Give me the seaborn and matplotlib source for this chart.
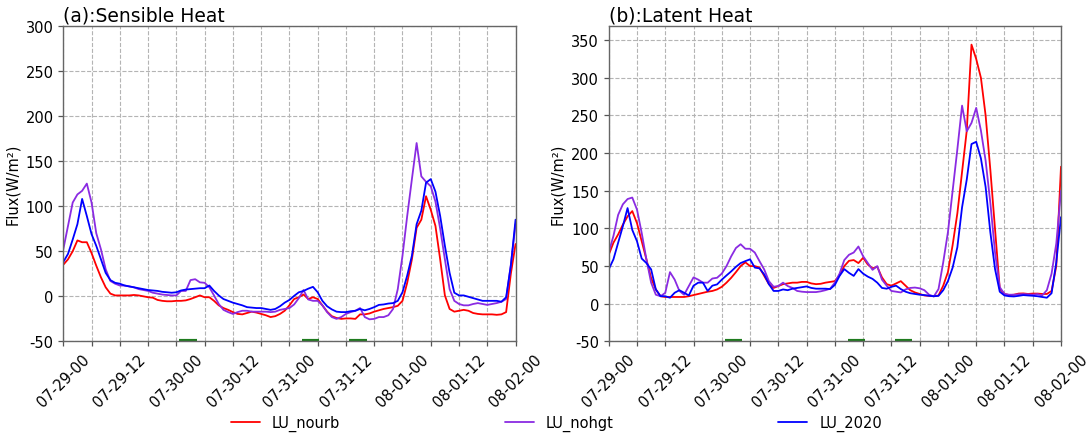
import matplotlib
matplotlib.use("Agg")
import matplotlib.pyplot as plt
import matplotlib.dates as mdates
import pandas as pd
import seaborn as sb

# series hourly 07-29 00 -> 08-02 00 (97 pts)
runs = ["LU_nourb", "LU_nohgt", "LU_2020"]
colores = ["#ff0000", "#8a2be2", "#0000ff"]

sh_nourb = [35, 41, 50, 62, 60, 60, 48, 34, 21, 10,
            3, 1, 1, 1, 1, 1.5, 1, 0, -1, -1.5,
            -4, -5, -5.5, -5.5, -5, -5, -4.5, -3, -1, 1,
            -1, -1, -5, -10, -13, -15, -17.5, -19.5, -20, -18.5,
            -17, -18, -19.5, -21, -23, -22, -19.5, -16, -10, -3,
            -1, 2, -3, -1, -3, -10, -17, -22, -24, -25,
            -24.5, -24.5, -25, -20, -20, -19, -17, -15.5, -14, -13,
            -12, -10.5, -5, 15, 41, 76, 85, 111, 96, 78,
            41, 1, -14, -17, -16, -15, -16, -18.5, -19.5, -20,
            -20, -20, -20.5, -20, -17.5, 25, 58]
sh_nohgt = [52, 78, 104, 113, 117, 125, 104, 70, 52, 30,
            17, 14, 12, 12, 11, 10, 8, 7, 6, 4,
            3, 2, 1.5, 1, 1, 6, 6, 18, 19, 15.5,
            15, 10, 1, -8.5, -15, -17.5, -19.5, -17.5, -16, -16,
            -17, -17, -17, -17, -17.5, -17, -15, -14, -13, -9,
            -2, 7, -3.5, -5, -5, -10, -17.5, -23, -25, -23,
            -19.5, -17.5, -16, -13, -23, -25.5, -25, -23, -23, -21,
            -14, 8, 45, 89, 130, 170, 133, 127, 122, 105,
            75, 41, 8, -5, -8.5, -10, -10, -8.5, -7.5, -8.5,
            -9.5, -8.5, -7.5, -6, -3, 35, 80]
sh_2020 = [38, 47, 63, 80, 108, 89, 69, 56, 41, 26,
           18, 15, 14, 12, 11, 10, 9, 8, 7, 6.5,
           6, 5, 4.5, 4, 4.5, 6.5, 7.5, 8, 8.5, 9,
           9, 12, 6, 1, -3, -5, -7, -8.5, -10, -12,
           -12.5, -13, -13, -14, -15, -14, -11, -7, -4, 0.5,
           4.5, 6, 8.5, 10.5, 4.5, -5, -11, -14.5, -17, -17.5,
           -17.5, -16.5, -16, -14, -15.5, -14, -12, -9.5, -9, -8,
           -7.5, -5, 4.5, 23, 45, 80, 95, 126, 130, 116,
           89, 56, 26, 4, 1, 1, -0.5, -2, -3.5, -5,
           -5, -5, -5, -6, -1, 34, 85]

lh_nourb = [65, 81, 92, 105, 116, 123, 107, 83, 59, 34,
            19, 10, 9, 9, 9, 9, 9, 10, 11.5, 13,
            14.5, 16, 17, 19, 22.5, 28, 34.5, 42, 50, 55,
            50, 50, 48, 37, 26, 21, 23.5, 26, 27, 28,
            28, 29, 29, 27, 26, 26.5, 28, 29, 30, 38,
            50, 57, 58, 54, 61, 52, 47, 49, 35, 26,
            24, 27, 30, 24, 18, 15, 13, 11, 10.5, 10,
            11, 24, 42, 78, 120, 175, 230, 344, 325, 300,
            250, 178, 99, 20, 13, 11.5, 12, 13.5, 13.7, 13,
            13.5, 13.5, 13, 13, 17, 50, 182]
lh_nohgt = [68, 90, 118, 132, 139, 141, 125, 94, 59, 28,
            12, 10, 14.5, 42, 32, 17, 12, 23.5, 35, 32,
            28, 28, 33.5, 34.5, 40, 50, 63, 74, 79, 73,
            73, 68, 56.6, 45.6, 30, 22.6, 23.5, 28, 23.5, 21,
            17, 16, 15.5, 15.5, 15.5, 16.5, 18, 20, 28, 40,
            58, 65, 68, 76, 63, 54, 45, 50, 32, 24,
            17, 16, 15, 19, 21, 21.5, 20.5, 18, 12, 9.7,
            19.5, 55, 95, 150, 205, 263, 229, 240, 260, 230,
            190, 134, 68, 22, 13, 12, 12, 12.5, 12.8, 12.5,
            12, 12.8, 11, 18, 40, 80, 150]
lh_2020 = [45.6, 59, 81, 103, 127, 98, 83, 60, 54, 45.6,
           19, 10, 10, 8, 14.6, 18, 14.6, 11, 24, 28,
           28, 17, 24, 25.7, 32, 37.6, 43, 49, 54, 56.6,
           59, 48, 47, 39, 26, 17, 17, 19, 18, 20,
           21, 22, 23, 21, 20, 20, 20, 19.5, 25, 37,
           46, 41, 37, 46, 40, 36, 33, 28, 21, 20,
           22.5, 24, 19.5, 16, 14, 13, 12, 11.5, 10.6, 10,
           10.5, 18, 30, 48, 75, 128, 165, 212, 215, 193,
           155, 95, 46, 16, 11, 10, 9.7, 10.5, 11.5, 11,
           10.6, 10, 9, 8, 14, 55, 115]

# green marks on the bottom axis (hours since 07-29 00)
marca_ini = [24.6, 50.7, 60.7]
marca_fin = [28.3, 54.3, 64.4]

t0 = pd.Timestamp("2020-07-29 00:00")
tiempo = pd.date_range(t0, "2020-08-02 00:00", freq="h")

def tabla(series):
    partes = []
    for nombre, vals in zip(runs, series):
        partes.append(pd.DataFrame({"time": tiempo, "flux": vals, "run": nombre}))
    return pd.concat(partes, ignore_index=True)

df_sh = tabla([sh_nourb, sh_nohgt, sh_2020])
df_lh = tabla([lh_nourb, lh_nohgt, lh_2020])

sb.set_style("ticks")
plt.rcParams["font.family"] = ["DejaVu Sans"]
plt.rcParams["axes.unicode_minus"] = False
plt.rcParams["text.color"] = "black"
plt.rcParams["axes.labelcolor"] = "black"

fig, axes = plt.subplots(1, 2, figsize=(10.91, 4.39), dpi=100)
fig.subplots_adjust(left=0.058, right=0.9725, bottom=0.22, top=0.939, wspace=0.206)

paneles = [(axes[0], df_sh, "(a):Sensible Heat", 300, 300),
           (axes[1], df_lh, "(b):Latent Heat", 369, 350)]
for ax, df, titulo, ytop, ytick_max in paneles:
    sb.lineplot(data=df, x="time", y="flux", hue="run", palette=colores,
                hue_order=runs, linewidth=1.3, legend=False, ax=ax)
    ax.hlines([-50] * len(marca_ini),
              [t0 + pd.Timedelta(hours=h) for h in marca_ini],
              [t0 + pd.Timedelta(hours=h) for h in marca_fin],
              colors="#1e7b1e", linewidth=3, zorder=1)
    ax.set_xlim(tiempo[0], tiempo[-1])
    ax.set_ylim(-50, ytop)
    ax.set_yticks(range(-50, ytick_max + 1, 50))
    ax.xaxis.set_major_locator(mdates.HourLocator(byhour=[0, 12]))
    ax.xaxis.set_minor_locator(mdates.HourLocator(byhour=[6, 18]))
    ax.xaxis.set_major_formatter(mdates.DateFormatter("%m-%d-%H"))
    ax.grid(True, which="both", color="#b4b4b4", linestyle="--", linewidth=0.8)
    ax.tick_params(axis="both", which="both", length=3.5, width=0.9,
                   color="#555555", labelcolor="black", labelsize=10.5)
    ax.tick_params(axis="x", labelrotation=45)
    for sp in ax.spines.values():
        sp.set_color("#666666")
        sp.set_linewidth(1.0)
    ax.set_xlabel("")
    ax.set_ylabel("Flux(W/m²)", fontsize=10.5, color="black")
    ax.set_title(titulo, loc="left", fontsize=13.5, pad=4, color="black")

fig.legend(axes[0].lines[:3], runs, loc="center", bbox_to_anchor=(0.51, 0.034),
           ncol=3, frameon=False, fontsize=10.5, columnspacing=11.3,
           handlelength=2, handletextpad=0.8, labelcolor="black")

plt.savefig("out.png", dpi=100)
